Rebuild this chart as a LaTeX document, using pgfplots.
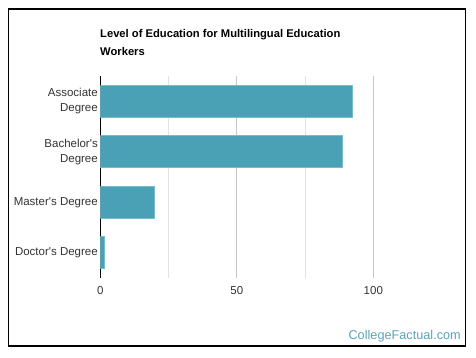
\documentclass[border=0pt]{standalone}
\usepackage{pgfplots}
\pgfplotsset{compat=1.18}
\usepackage{fontspec}
\setmainfont{Liberation Sans}
\definecolor{barc}{RGB}{74,160,180}
\definecolor{baredge}{RGB}{120,188,204}
\definecolor{txt}{RGB}{51,51,51}
\definecolor{brand}{RGB}{90,163,185}
\begin{document}
\begin{tikzpicture}[x=1bp,y=1bp]
\path (0,0) rectangle (476,357);
\draw[line width=1.5bp, black] (8.5,11) rectangle (465.5,348);
\node[anchor=base west, font=\fontsize{11.2bp}{17.7bp}\selectfont\bfseries, text=black, inner sep=0, align=left] at (100,357-55) {Level of Education for Multilingual Education\\Workers};
\begin{axis}[
  at={(100.3bp,79bp)}, anchor=south west,
  scale only axis, width=341.25bp, height=202bp,
  xmin=0, xmax=125, ymin=-0.5, ymax=3.5,
  y dir=reverse,
  axis x line*=bottom,
  axis y line*=left,
  x axis line style={draw=none},
  y axis line style={black, line width=0.8bp, -},
  xtick={0,50,100},
  minor xtick={25,75},
  xmajorgrids, xminorgrids,
  major grid style={color=black!22, line width=0.8bp},
  minor grid style={color=black!11, line width=0.8bp},
  xticklabel style={font=\fontsize{11.5bp}{14bp}\selectfont, text=txt, yshift=-5bp},
  /pgf/number format/assume math mode=true,
  ytick={0,1,2,3},
  yticklabels={{Associate\\Degree},{Bachelor\textquotesingle s\\Degree},{Master\textquotesingle s Degree},{Doctor\textquotesingle s Degree}},
  yticklabel style={align=right, font=\fontsize{11.5bp}{15.3bp}\selectfont, text=txt, xshift=1bp},
  major tick length=0, minor tick length=0,
  xbar, bar width=32bp,
]
\addplot[fill=barc, draw=baredge, line width=0.8bp] coordinates {(92.3,0) (88.6,1) (19.8,2) (1.5,3)};
\end{axis}
\node[anchor=base east, font=\fontsize{12.7bp}{15bp}\selectfont, text=brand, inner sep=0] at (461,357-339) {CollegeFactual.com};
\end{tikzpicture}
\end{document}
